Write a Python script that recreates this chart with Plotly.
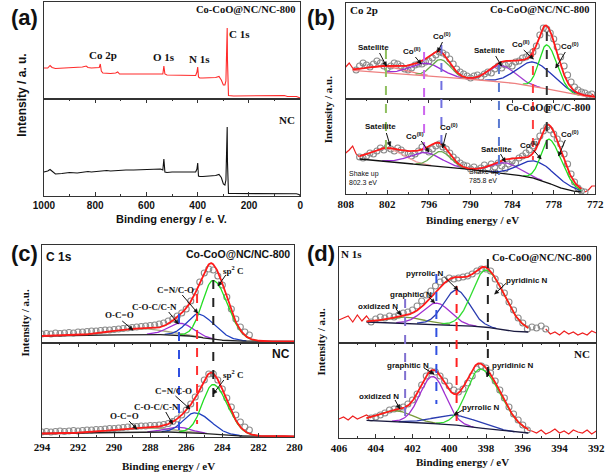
import numpy as np
import plotly.graph_objects as go

W, H = 614, 474
SERIF = "Liberation Serif"
SANS = "Liberation Sans"

# ================= DATA =================
# (a) survey spectra (binding energy eV, intensity a.u.)
a_be = [1000, 985, 976, 968, 955, 930, 900, 870, 850, 835, 828, 815, 800, 790, 784, 780, 776, 770, 755, 740,
        720, 712, 705, 680, 650, 620, 590, 560, 545, 536, 532, 528, 520, 500, 470, 440, 420, 408, 403, 400,
        397, 392, 380, 360, 340, 330, 317, 308, 300, 294, 290, 287, 285, 284, 282.5, 280, 260, 230, 200, 160,
        120, 80, 62, 50, 30, 15, 5, 0]
a_cocoo = [31, 31, 33.5, 31.5, 30.5, 31, 31, 31.5, 32, 33, 31.5, 31, 31.5, 32, 31.5, 35, 28, 26, 25.5, 25.5,
           26, 27, 25, 25, 25, 25, 25, 25, 25, 25, 33, 25, 24, 24, 23.5, 23.5, 23.5, 23.5, 27, 32,
           22, 21, 21, 21, 21.5, 21.5, 22.5, 19, 14, 14, 18, 55, 71, 40, 5, 3.5, 3, 3, 3, 3,
           3, 3, 3.5, 2.5, 2.5, 2.5, 1.5, 1]
a_nc = [24, 25, 26.5, 25, 22, 22.5, 23.5, 23, 24, 24, 24.5, 24, 24.5, 24.5, 25, 25, 25, 25, 25.5, 25,
        25.5, 25.5, 25.5, 26, 26, 26.5, 26.5, 27, 27, 26, 37, 24, 23.5, 24, 24, 24, 24, 24, 27, 33,
        20, 19.5, 19.5, 20, 20, 20.5, 21.5, 18.5, 12, 11, 16, 52, 69, 35, 4, 2.5, 2.5, 2.5, 2.5, 2.5,
        2.3, 2.3, 2.3, 2.2, 2, 2.2, 1.5, 0.5]
a_ticks = [1000, 800, 600, 400, 200, 0]

# (b) Co 2p
b_be = list(np.arange(808, 771.9, -0.5))
b_top_raw = [32, 36, 31, 29, 33, 36, 34, 32, 35, 38, 36, 33, 31, 33, 36, 35, 33, 30, 29, 31,
             34, 35, 35, 37, 38, 41, 44, 47, 46, 44, 40, 35, 30, 27, 25, 23, 21, 23, 24, 22,
             25, 27, 26, 30, 33, 31, 34, 35, 33, 37, 38, 41, 42, 44, 47, 53, 64, 71, 70, 66,
             60, 52, 42, 33, 24, 17, 12, 9, 7, 6, 4, 5, 2]
b_bot_raw = [41, 44, 48, 40, 37, 36, 38, 41, 40, 43, 46, 44, 47, 45, 43, 46, 44, 41, 40, 38,
             40, 43, 47, 44, 42, 45, 48, 50, 47, 45, 41, 37, 34, 31, 29, 28, 25, 27, 24, 26,
             29, 26, 30, 27, 31, 28, 25, 30, 33, 31, 36, 38, 41, 44, 48, 52, 58, 63, 67, 64,
             60, 55, 50, 40, 30, 20, 12, 6, 3, 2, 4, 8, 8]
b_top_bg_be = [772, 775, 777, 779, 781, 784, 788, 792, 796, 800, 804, 808]
b_top_bg = [2, 4, 7, 10, 13, 16, 18.5, 21, 23.5, 25.5, 27.5, 29]
b_bot_bg_be = [772, 774.3, 775.2, 776, 777.5, 779, 781, 783, 786, 790, 795, 800, 806, 808]
b_bot_bg = [2, 2, 3, 4, 7, 12, 16, 18.5, 21, 24.5, 28, 31, 35, 36]
b_names = ["Sat", "Co(II) 2p1/2", "Co(0) 2p1/2", "Sat", "Co(II) 2p3/2", "Co(0) 2p3/2"]
b_top_center = [802.3, 796.4, 794.3, 785.6, 780.9, 779.0]
b_top_height = [6, 12, 17, 16.5, 24, 44]
b_top_sig_hi = [2.5, 2.2, 1.3, 1.8, 2.4, 1.1]
b_top_sig_lo = [2.5, 2.2, 1.4, 2.0, 2.8, 1.5]
b_bot_center = [802.0, 796.5, 794.3, 785.0, 780.6, 778.6]
b_bot_height = [13, 12.5, 15, 11, 17.5, 44]
b_bot_sig_hi = [2.3, 2.3, 1.3, 2.0, 2.4, 1.2]
b_bot_sig_lo = [2.3, 2.3, 1.4, 2.0, 3.0, 1.8]
b_ticks = [808, 802, 796, 790, 784, 778, 772]
b_marks = [802.2, 796.7, 794.2, 785.9, 781.0, 779.0]

# (c) C 1s
c_be = list(np.arange(294, 282.4, -0.25))
c_top_raw = [9, 9.5, 9, 10, 9.5, 10, 10.5, 10, 11, 11, 11.5, 12, 12, 12.5, 13, 13, 13.5, 14, 14.5, 15,
             15.5, 16, 16.5, 17, 17.5, 18, 19, 20, 22, 24, 27, 30, 34, 42, 51, 61, 70, 74, 73, 67,
             58, 46, 34, 24, 16, 11, 8]
c_bot_raw = [5, 5.5, 5, 5.5, 6, 5.5, 6, 6.5, 6, 6.5, 7, 7, 7.5, 7.5, 8, 8.5, 8.5, 9, 9.5, 10,
             10.5, 10.5, 11, 11, 11.5, 11.5, 12, 12.5, 13.5, 15.5, 18, 22, 27, 33, 40, 48, 57, 63, 63, 57,
             48, 39, 30, 22, 15, 10, 7]
c_top_bg_be = [280, 283.5, 284.5, 285.5, 286.5, 288, 290, 294]
c_top_bg = [1.5, 2, 3.5, 6.5, 8, 8.5, 8, 7]
c_bot_bg_be = [280, 283, 284, 285, 286, 287, 290, 294]
c_bot_bg = [0.7, 1, 1.5, 3.5, 4.8, 5, 4.5, 3.5]
c_names = ["O-C=O", "C-O-C/C-N", "C=N/C-O", "sp2 C"]
c_top_center = [288.7, 286.3, 285.3, 284.5]
c_top_height = [6, 12, 23, 59]
c_top_sig_hi = [1.5, 0.7, 0.65, 0.6]
c_top_sig_lo = [1.5, 0.7, 0.9, 0.8]
c_bot_center = [288.5, 286.5, 285.5, 284.5]
c_bot_height = [4.5, 5, 20, 50]
c_bot_sig_hi = [1.5, 0.7, 0.65, 0.6]
c_bot_sig_lo = [1.5, 0.7, 0.9, 0.8]
c_ticks = [294, 292, 290, 288, 286, 284, 282, 280]
c_marks = [286.4, 285.4, 284.5]

# (d) N 1s
d_be = list(np.arange(406, 391.9, -0.25))
d_top_raw = [23, 25, 27, 21, 28, 22, 27, 21, 24, 26, 25, 27, 26, 28, 30, 31, 33, 37, 42, 48,
             52, 57, 61, 63, 65, 64, 65, 66, 67, 69, 72, 74, 74, 72, 64, 57, 50, 41, 33, 25,
             20, 14, 16, 15, 17, 14, 9, 11, 8, 12, 9, 11, 8, 10, 8, 12, 10]
d_bot_raw = [19, 21, 18, 22, 19, 21, 23, 20, 21, 23, 25, 28, 29, 30, 31, 34, 38, 44, 53, 62,
             67, 66, 62, 57, 52, 48, 46, 49, 55, 62, 69, 72, 70, 65, 57, 48, 40, 31, 24, 18,
             13, 8, 7, 5, 8, 4, 6, 9, 5, 7, 4, 8, 6, 5, 8, 4, 7]
d_top_bg_be = [395.7, 396.6, 398, 400.3, 404.5]
d_top_bg = [11, 11.7, 16, 18.7, 21]
d_bot_bg_be = [395.7, 396.5, 398, 400, 404.5]
d_bot_bg = [5, 6, 9.3, 13.7, 17.7]
d_names = ["oxidized N", "graphitic N", "pyrrolic N", "pyridinic N"]
d_top_center = [402.4, 400.7, 399.6, 398.0]
d_top_height = [6, 21, 35, 57]
d_top_sig_hi = [1.0, 0.75, 0.7, 0.75]
d_top_sig_lo = [1.0, 0.75, 0.7, 1.0]
d_bot_center = [402.9, 400.9, 399.6, 398.3]
d_bot_height = [11, 47, 9.7, 59]
d_bot_sig_hi = [0.9, 0.7, 1.2, 0.75]
d_bot_sig_lo = [0.9, 0.7, 1.2, 1.1]
d_ticks = [406, 404, 402, 400, 398, 396, 394, 392]
d_marks = [402.4, 400.7, 399.6, 397.9]

# ================= FIGURE =================
fig = go.Figure()


def px(x):
    return x / W


def py(y):
    return 1 - y / H


def ax_names(i):
    return ("x" if i == 1 else f"x{i}"), ("y" if i == 1 else f"y{i}")


# axis id: (left, right, top, bottom px, xrange)
AX = {
    1: (34, 299, 2, 99, [1000, 0]),
    2: (34, 299, 99, 196, [1000, 0]),
    3: (346, 604, 3, 99, [808, 772]),
    4: (346, 604, 99, 194, [808, 772]),
    5: (32, 293, 245, 343, [294, 280]),
    6: (32, 293, 343, 437, [294, 280]),
    7: (339, 605, 247, 343, [406, 392]),
    8: (339, 605, 343, 438, [406, 392]),
}
TICKS = {2: (a_ticks, 100, SANS, 10), 4: (b_ticks, 3, SERIF, 11),
         6: (c_ticks, 1, SERIF, 11), 8: (d_ticks, 1, SERIF, 11)}

layout_axes = {}
for i, (l, r, t, b, xr) in AX.items():
    xk = "xaxis" if i == 1 else f"xaxis{i}"
    yk = "yaxis" if i == 1 else f"yaxis{i}"
    xa, ya = ax_names(i)
    xd = dict(domain=[px(l), px(r)], range=xr, anchor=ya, showgrid=False, zeroline=False,
              showline=True, mirror=True, linecolor="#333", linewidth=1)
    if i in TICKS:
        tv, md, fam, fs = TICKS[i]
        xd.update(tickmode="array", tickvals=tv, ticktext=[f"<b>{v}</b>" for v in tv],
                  ticks="inside", ticklen=4, tickcolor="#333", mirror="ticks",
                  tickfont=dict(family=fam, size=fs, color="#111"),
                  minor=dict(ticks="inside", ticklen=2, dtick=md, tick0=tv[-1], tickcolor="#333"))
    else:
        xd.update(showticklabels=False, ticks="")
    layout_axes[xk] = xd
    layout_axes[yk] = dict(domain=[py(b), py(t)], range=[0, b - t], anchor=xa, showgrid=False,
                           zeroline=False, showline=True, mirror=True, linecolor="#333",
                           linewidth=1, showticklabels=False, ticks="", fixedrange=True)


def nanlist(arr):
    return [None if (v is None or np.isnan(v)) else float(v) for v in arr]


def peak(x, c, h, s_hi, s_lo):
    s = np.where(x > c, s_hi, s_lo)
    return h * np.exp(-(x - c) ** 2 / (2 * s ** 2))


def add_fit(i, be, raw, circ, bgx, bgy, fit, centers, heights, shi, slo, colors, bg_color,
            marker_size=6):
    xa, ya = ax_names(i)
    be = np.asarray(be, float)
    raw = np.asarray(raw, float)
    lo, hi = circ
    for m in (be >= hi, be <= lo):
        if m.sum() > 1:
            fig.add_trace(go.Scatter(x=be[m], y=raw[m], mode="lines", xaxis=xa, yaxis=ya,
                                     line=dict(color="#ee2020", width=1.2), showlegend=False))
    mc = (be <= hi) & (be >= lo)
    fig.add_trace(go.Scatter(x=be[mc], y=raw[mc], mode="markers", xaxis=xa, yaxis=ya,
                             marker=dict(symbol="circle-open", size=marker_size, color="#8c8c8c",
                                         line=dict(width=1.1)), showlegend=False))
    x = np.linspace(fit[0], fit[1], 600)
    bg = np.interp(x, bgx, bgy)
    env = bg.copy()
    for c, h, sh, sl, col in zip(centers, heights, shi, slo, colors):
        g = peak(x, c, h, sh, sl)
        env = env + g
        y = np.where(g > 0.3, bg + g, np.nan)
        fig.add_trace(go.Scatter(x=x, y=nanlist(y), mode="lines", xaxis=xa, yaxis=ya,
                                 line=dict(color=col, width=1.3), showlegend=False))
    fig.add_trace(go.Scatter(x=x, y=bg, mode="lines", xaxis=xa, yaxis=ya,
                             line=dict(color=bg_color, width=1.3), showlegend=False))
    fig.add_trace(go.Scatter(x=x, y=env, mode="lines", xaxis=xa, yaxis=ya,
                             line=dict(color="#ff1a1a", width=1.8), showlegend=False))


# (a)
fig.add_trace(go.Scatter(x=a_be, y=a_cocoo, mode="lines", xaxis="x", yaxis="y",
                         line=dict(color="#ff2a2a", width=1.1), showlegend=False))
fig.add_trace(go.Scatter(x=a_be, y=a_nc, mode="lines", xaxis="x2", yaxis="y2",
                         line=dict(color="#111", width=1.1), showlegend=False))

# (b)
b_cols = ["#f08080", "#9a2fd6", "#6aa84f", "#a23fd0", "#2636b8", "#22dd22"]
add_fit(3, b_be, b_top_raw, (772.5, 806.5), b_top_bg_be, b_top_bg, (807, 772),
        b_top_center, b_top_height, b_top_sig_hi, b_top_sig_lo, b_cols, "#ee8080")
b_cols2 = ["#f2a0a0", "#9a2fd6", "#6aa84f", "#a23fd0", "#2636b8", "#22dd22"]
add_fit(4, b_be, b_bot_raw, (773.5, 806), b_bot_bg_be, b_bot_bg, (806, 774),
        b_bot_center, b_bot_height, b_bot_sig_hi, b_bot_sig_lo, b_cols2, "#111")

# (c)
c_cols = ["#a8a880", "#9a2fd6", "#2040c0", "#22dd22"]
add_fit(5, c_be, c_top_raw, (282.5, 294), c_top_bg_be, c_top_bg, (294, 280),
        c_top_center, c_top_height, c_top_sig_hi, c_top_sig_lo, c_cols, "#222", 6)
add_fit(6, c_be, c_bot_raw, (282.5, 294), c_bot_bg_be, c_bot_bg, (294, 280),
        c_bot_center, c_bot_height, c_bot_sig_hi, c_bot_sig_lo, c_cols, "#222", 6)

# (d)
d_cols = ["#7a9a3a", "#a030d0", "#2a3cb0", "#33dd33"]
add_fit(7, d_be, d_top_raw, (394.75, 404.25), d_top_bg_be, d_top_bg, (404.5, 395.7),
        d_top_center, d_top_height, d_top_sig_hi, d_top_sig_lo, d_cols, "#1a1a40")
add_fit(8, d_be, d_bot_raw, (395.75, 404.25), d_bot_bg_be, d_bot_bg, (404.5, 395.7),
        d_bot_center, d_bot_height, d_bot_sig_hi, d_bot_sig_lo, d_cols, "#1a1a40")

# ---------- dashed marker lines ----------
shapes = []


def vdash(i, xval, ytop, ybot, color):
    xa, _ = ax_names(i)
    shapes.append(dict(type="line", xref=xa, yref="paper", x0=xval, x1=xval,
                       y0=py(ytop), y1=py(ybot), line=dict(color=color, width=2, dash="dash")))


b_mcols = ["#8fbf5f", "#cc66ee", "#7070e0", "#5a7ad0", "#ff4040", "#333"]
b_mext = [(50, 155), (52, 150), (45, 152), (65, 175), (48, 160), (32, 150)]
for xv, col, (t, bt) in zip(b_marks, b_mcols, b_mext):
    vdash(3, xv, t, bt, col)
c_mcols = ["#3050e0", "#ff3030", "#222"]
c_mext = [(314, 430), (294, 424), (280, 397)]
for xv, col, (t, bt) in zip(c_marks, c_mcols, c_mext):
    vdash(5, xv, t, bt, col)
d_mcols = ["#8070d0", "#3050e0", "#ff2020", "#222"]
d_mext = [(299, 417), (274, 404), (286, 422), (259, 385)]
for xv, col, (t, bt) in zip(d_marks, d_mcols, d_mext):
    vdash(7, xv, t, bt, col)

# ---------- annotations ----------
anns = []


def txt(text, x, y, size, fam=SERIF, anchor="center", angle=0, color="#111"):
    anns.append(dict(text=f"<b>{text}</b>", x=px(x), y=py(y), xref="paper", yref="paper",
                     xanchor=anchor, yanchor="middle", showarrow=False, textangle=angle,
                     font=dict(family=fam, size=size, color=color)))


def arrow(tx, ty, hx, hy):
    shapes.append(dict(type="line", xref="paper", yref="paper", x0=px(tx), y0=py(ty),
                       x1=px(hx), y1=py(hy), line=dict(color="#111", width=1)))
    dx, dy = hx - tx, hy - ty
    n = max((dx * dx + dy * dy) ** 0.5, 1e-6)
    ux, uy = dx / n, dy / n
    bx, by = hx - 4 * ux, hy - 4 * uy
    p1 = (bx - 2 * uy, by + 2 * ux)
    p2 = (bx + 2 * uy, by - 2 * ux)
    path = (f"M {px(hx)} {py(hy)} L {px(p1[0])} {py(p1[1])} "
            f"L {px(p2[0])} {py(p2[1])} Z")
    shapes.append(dict(type="path", xref="paper", yref="paper", path=path,
                       fillcolor="#111", line=dict(color="#111", width=0.5)))


# panel letters
txt("(a)", 14, 17, 22, SANS)
txt("(b)", 320, 17, 22, SANS)
txt("(c)", 14, 253, 22, SANS)
txt("(d)", 320, 253, 22, SANS)

# (a)
txt("Co-CoO@NC/NC-800", 297, 10, 10.5, SERIF, "right")
txt("C 1s", 236, 34, 11)
txt("Co 2p", 95, 55, 11)
txt("O 1s", 158, 57, 11)
txt("N 1s", 195, 59, 11)
txt("NC", 296, 120, 11, SERIF, "right")
txt("Binding energy / e. V.", 166, 219, 11, SANS)
txt("Intensity / a. u.", 11, 95, 12, SANS, angle=-90)

# (b)
txt("Co 2p", 348, 10, 11, SERIF, "left")
txt("Co-CoO@NC/NC-800", 601, 10, 10.5, SERIF, "right")
txt("Co-CoO@C/C-800", 601, 107, 10.5, SERIF, "right")
txt("Binding energy / eV", 477, 220, 11)
txt("Intensity / a.u.", 328, 110, 11, SERIF, angle=-90)
CoII = "Co<sup>(II)</sup>"
Co0 = "Co<sup>(0)</sup>"
for t, x, y in [("Satellite", 375, 47), (CoII, 415, 51), (Co0, 445, 36), ("Satellite", 495, 50),
                (CoII, 527, 44), (Co0, 578, 46), ("Satellite", 382, 127), (CoII, 418, 136),
                (Co0, 453, 127), ("Satellite", 502, 149), (CoII, 535, 145), (Co0, 578, 134)]:
    txt(t, x, y, 8, SANS)
for a in [(381, 53, 388, 66), (418, 57, 424, 64), (446, 42, 441, 52), (501, 56, 507, 66),
          (530, 50, 540, 59), (573, 52, 563, 68), (388, 133, 392, 146), (424, 141, 432, 152),
          (450, 133, 446, 148), (506, 154, 511, 162), (540, 150, 548, 159), (573, 140, 566, 156)]:
    arrow(*a)
anns.append(dict(text="Shake up<br>802.3 eV", x=px(347), y=py(178), xref="paper", yref="paper",
                 xanchor="left", yanchor="middle", showarrow=False, align="left",
                 font=dict(family=SANS, size=7, color="#111")))
anns.append(dict(text="Shake up<br>785.8 eV", x=px(471), y=py(176), xref="paper", yref="paper",
                 xanchor="left", yanchor="middle", showarrow=False, align="left",
                 font=dict(family=SANS, size=7, color="#111")))

# (c)
txt("C 1s", 50, 257, 12, SANS)
txt("Co-CoO@NC/NC-800", 290, 254, 10.5, SANS, "right")
txt("NC", 290, 354, 12, SANS, "right")
txt("Binding energy / eV", 163, 466, 11)
txt("Intensity / a.u.", 14, 323, 11, SERIF, angle=-90)
for t, x, y in [("sp<sup>2</sup> C", 229, 270), ("C=N/C-O", 170, 290), ("C-O-C/C-N", 148, 307),
                ("O-C=O", 112, 315), ("sp<sup>2</sup> C", 229, 374), ("C=N/C-O", 168, 391),
                ("C-O-C/C-N", 150, 407), ("O-C=O", 117, 416)]:
    txt(t, x, y, 9)
for a in [(222, 275, 214, 286), (177, 295, 193, 313), (163, 312, 173, 324), (115, 321, 126, 330),
          (220, 380, 209, 394), (170, 396, 185, 409), (160, 412, 167, 424), (122, 421, 130, 429)]:
    arrow(*a)

# (d)
txt("N 1s", 352, 254, 11, SERIF)
txt("Co-CoO@NC/NC-800", 603, 257, 10.5, SERIF, "right")
txt("NC", 601, 354, 11, SERIF, "right")
txt("Binding energy / eV", 467, 462, 11)
txt("Intensity / a.u.", 320, 342, 11, SERIF, angle=-90)
for t, x, y in [("pyrrolic N", 428, 273), ("graphitic N", 413, 294), ("oxidized N", 379, 306),
                ("pyridinic N", 533, 280), ("graphitic N", 410, 365), ("pyridinic N", 519, 365),
                ("pyrrolic N", 486, 407), ("oxidized N", 380, 396)]:
    txt(t, x, y, 8, SANS)
for a in [(448, 277, 462, 290), (432, 297, 438, 303), (398, 309, 403, 315), (512, 283, 500, 294),
          (427, 368, 437, 374), (494, 369, 492, 377), (467, 410, 458, 415), (397, 400, 402, 409)]:
    arrow(*a)

fig.update_layout(width=W, height=H, margin=dict(l=0, r=0, t=0, b=0),
                  paper_bgcolor="white", plot_bgcolor="white", showlegend=False,
                  hovermode=False, shapes=shapes, annotations=anns, **layout_axes)

fig.write_html("out.html", config={"displayModeBar": False, "staticPlot": True},
               post_script="document.body.style.margin='0px';")
